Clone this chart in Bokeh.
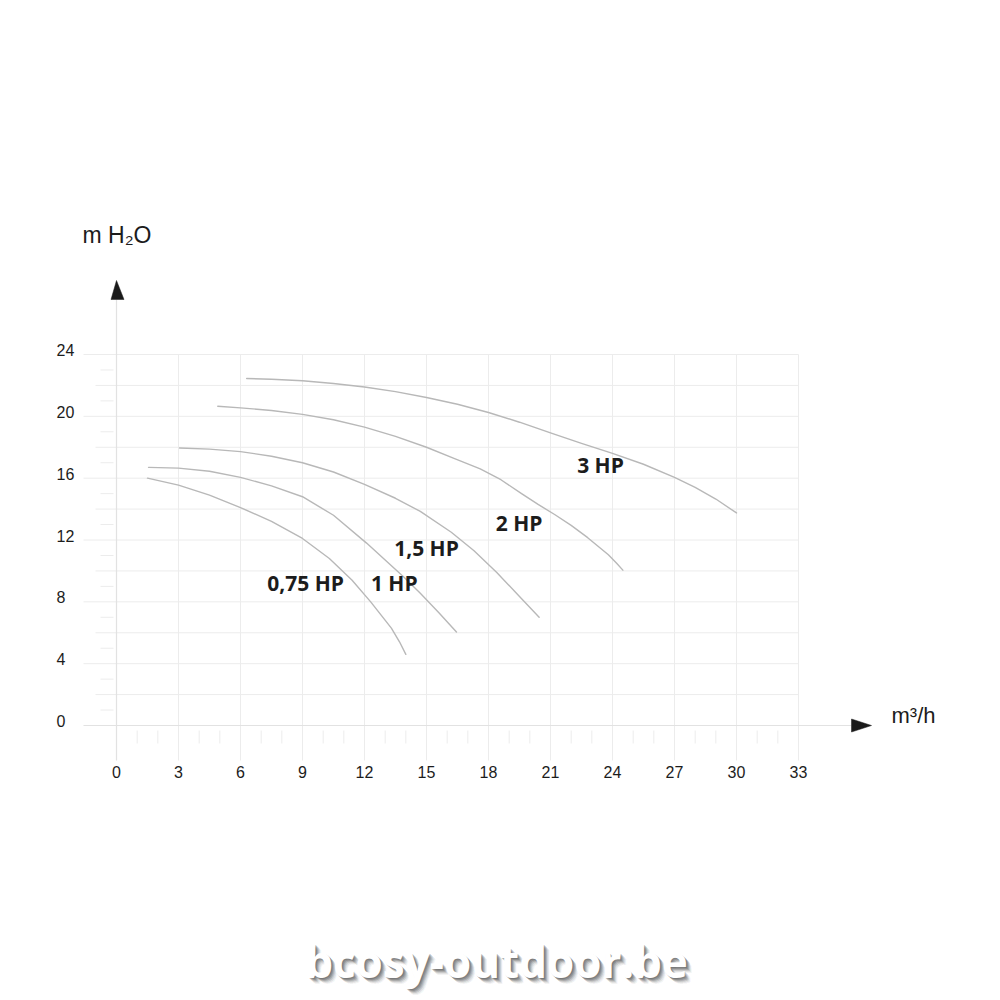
from bokeh.plotting import figure
from bokeh.models import Range1d
from bokeh.core.properties import value
from bokeh.embed import file_html
from bokeh.resources import INLINE

# ---------------- data ----------------
X_TICKS = [0, 3, 6, 9, 12, 15, 18, 21, 24, 27, 30, 33]
X_LABELS = ["0", "3", "6", "9", "12", "15", "18", "21", "24", "27", "30", "33"]
Y_TICKS = [0, 4, 8, 12, 16, 20, 24]
Y_LABELS = ["0", "4", "8", "12", "16", "20", "24"]

HP075_Q = [1.5, 3.0, 4.5, 6.0, 7.5, 9.0, 10.3, 11.4, 12.3, 13.3, 13.7, 14.0]
HP075_H = [16.0, 15.55, 14.9, 14.1, 13.2, 12.1, 10.8, 9.4, 8.0, 6.3, 5.4, 4.6]

HP1_Q = [1.55, 3.0, 4.5, 6.0, 7.5, 9.0, 10.5, 12.1, 13.0, 13.9, 14.7, 15.6, 16.45]
HP1_H = [16.7, 16.65, 16.45, 16.05, 15.5, 14.8, 13.6, 11.8, 10.7, 9.6, 8.55, 7.3, 6.05]

HP15_Q = [3.05, 4.5, 6.0, 7.5, 9.0, 10.5, 12.0, 13.5, 14.7, 16.2, 17.3, 18.4, 19.5, 20.45]
HP15_H = [17.95, 17.88, 17.72, 17.42, 17.0, 16.4, 15.6, 14.7, 13.85, 12.5, 11.3, 9.9, 8.35, 7.0]

HP2_Q = [4.9, 6.0, 7.5, 9.0, 10.5, 12.0, 13.5, 15.0, 16.3, 17.6, 18.6, 19.6, 20.4,
         21.2, 22.0, 22.8, 23.3, 23.8, 24.2, 24.5]
HP2_H = [20.65, 20.55, 20.38, 20.13, 19.78, 19.3, 18.7, 18.0, 17.3, 16.6, 15.9, 15.0, 14.3,
         13.65, 12.95, 12.15, 11.6, 11.05, 10.5, 10.05]

HP3_Q = [6.3, 7.5, 9.0, 10.5, 12.0, 13.5, 15.0, 16.5, 18.0, 19.5, 21.0, 22.5, 24.0,
         25.5, 27.0, 28.0, 29.0, 30.0]
HP3_H = [22.45, 22.4, 22.3, 22.12, 21.9, 21.6, 21.22, 20.78, 20.25, 19.62, 18.93, 18.25, 17.6,
         16.9, 16.05, 15.4, 14.65, 13.75]

SERIES_NAMES = ["0,75 HP", "1 HP", "1,5 HP", "2 HP", "3 HP"]

# ---------------- layout ----------------
W = H = 1000
SX = 682 / 33.0      # px per m3/h
SY = 371 / 24.0      # px per m H2O
X_ORIG_PX = 116      # picture px of x = 0
Y_ORIG_PX = 725      # picture px of y = 0

X0 = -X_ORIG_PX / SX
X1 = X0 + W / SX
Y1 = Y_ORIG_PX / SY
Y0 = Y1 - H / SY


def px(ix):
    return (ix - X_ORIG_PX) / SX


def py(iy):
    return (Y_ORIG_PX - iy) / SY


p = figure(width=W, height=H, output_backend="svg", toolbar_location=None,
           x_range=Range1d(X0, X1), y_range=Range1d(Y0, Y1), min_border=0)
p.axis.visible = False
p.grid.visible = False
p.outline_line_color = None
p.background_fill_color = "white"
p.border_fill_color = "white"

GRID_C = "#ececec"
AXIS_C = "#e2e2e2"
TEXT_C = "#1c1c1c"
X_MAX = X_TICKS[-1]
Y_MAX = Y_TICKS[-1]

# vertical grid lines (major x ticks) running below the axis
vx = [t for t in X_TICKS if t > 0]
p.segment(x0=vx, y0=[Y_MAX] * len(vx), x1=vx, y1=[py(760)] * len(vx),
          line_color=GRID_C, line_width=1)

# minor x ticks below axis
x_minor = [v for v in range(1, X_MAX) if v % 3 != 0]
p.segment(x0=x_minor, y0=[py(730)] * len(x_minor), x1=x_minor,
          y1=[py(743)] * len(x_minor), line_color=GRID_C, line_width=1)

# horizontal grid lines every 2 units
y_grid = list(range(2, Y_MAX + 1, 2))
y_grid_start = [px(83) if v % 4 == 0 else px(95) for v in y_grid]
p.segment(x0=y_grid_start, y0=y_grid, x1=[X_MAX] * len(y_grid), y1=y_grid,
          line_color=GRID_C, line_width=1)

# minor y ticks
y_minor = list(range(1, Y_MAX, 2))
p.segment(x0=[px(100)] * len(y_minor), y0=y_minor, x1=[px(113)] * len(y_minor),
          y1=y_minor, line_color=GRID_C, line_width=1)

# axes lines
p.segment(x0=[px(83)], y0=[0], x1=[px(851)], y1=[0], line_color=AXIS_C, line_width=1.2)
p.segment(x0=[0], y0=[py(299)], x1=[0], y1=[py(760)], line_color=AXIS_C, line_width=1.2)

# arrow heads
p.patches(xs=[[0, px(110.5), px(123.5)], [px(871), px(851), px(851)]],
          ys=[[py(280), py(299), py(299)], [0, py(718.5), py(731.5)]],
          fill_color="#1a1a1a", line_color="#1a1a1a", line_width=0.5)

# curves
CURVE_C = "#b8b8b8"
for q, h in [(HP075_Q, HP075_H), (HP1_Q, HP1_H), (HP15_Q, HP15_H),
             (HP2_Q, HP2_H), (HP3_Q, HP3_H)]:
    p.line(q, h, line_color=CURVE_C, line_width=1.4, line_join="round", line_cap="round")

# curve labels
LABEL_X = [9.15, 13.44, 15.0, 19.48, 23.42]
LABEL_Y = [9.22, 9.22, 11.48, 13.1, 16.83]
p.text(x=LABEL_X, y=LABEL_Y, text=SERIES_NAMES, text_font=value("Open Sans"),
       text_font_style="bold", text_font_size="21px", text_color=TEXT_C,
       text_align="center", text_baseline="middle")

# tick labels
p.text(x=X_TICKS, y=[py(771)] * len(X_TICKS), text=X_LABELS,
       text_font=value("Liberation Sans"), text_font_size="16px", text_color=TEXT_C,
       text_align="center", text_baseline="middle")
p.text(x=[px(56)] * len(Y_TICKS), y=[t + 4.5 / SY for t in Y_TICKS], text=Y_LABELS,
       text_font=value("Liberation Sans"), text_font_size="16px", text_color=TEXT_C,
       text_align="left", text_baseline="middle")

# axis titles
p.text(x=[px(82)], y=[py(234)], text=["m H\u2082O"], text_font=value("Liberation Sans"),
       text_font_size="23px", text_color=TEXT_C, text_align="left",
       text_baseline="middle")
p.text(x=[px(891)], y=[py(715)], text=["m\u00b3/h"], text_font=value("Liberation Sans"),
       text_font_size="22px", text_color=TEXT_C, text_align="left",
       text_baseline="middle")

# watermark with soft shadow
WM = "bcosy-outdoor.be"
WM_X, WM_Y = 496, 960
for dx, dy, a in [(6, 6, 0.06), (5, 5, 0.1), (4, 4, 0.16), (3, 3, 0.22), (2, 2, 0.28), (1, 1, 0.3)]:
    p.text(x=[px(WM_X + dx)], y=[py(WM_Y + dy)], text=[WM], text_font=value("Open Sans"),
           text_font_style="bold", text_font_size="44px", text_color="#444444",
           text_alpha=a, text_align="center", text_baseline="middle")
p.text(x=[px(WM_X)], y=[py(WM_Y)], text=[WM], text_font=value("Open Sans"),
       text_font_style="bold", text_font_size="44px", text_color="white",
       text_align="center", text_baseline="middle")

open("out.html", "w").write(file_html(p, INLINE))
